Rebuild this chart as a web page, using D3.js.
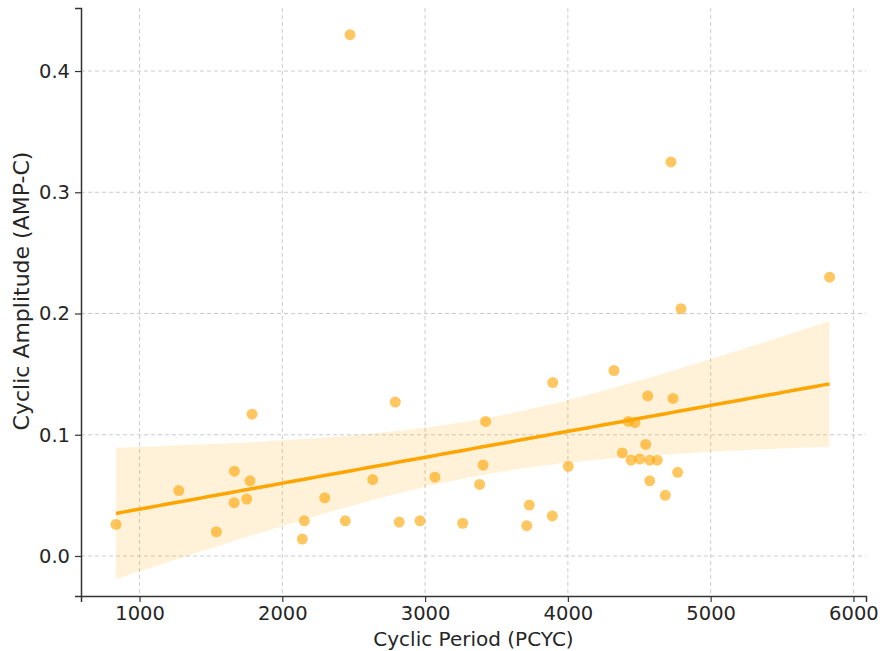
<!DOCTYPE html>
<html>
<head>
<meta charset="utf-8">
<script src="https://cdn.jsdelivr.net/npm/d3@7"></script>
<style>
  body { margin: 0; background: #fff; }
  svg text { font-family: "DejaVu Sans", sans-serif; fill: #262626; }
</style>
</head>
<body>
<svg id="chart" width="880" height="651"></svg>
<script>
// Cyclic period (PCYC) of each sample
const periods = [835, 1275, 1538, 1664, 1662, 1751, 1774, 1788, 2154, 2140,
  2297, 2441, 2474, 2633, 2791, 2819, 2964, 3069, 3263, 3382,
  3406, 3424, 3712, 3730, 3891, 3894, 4003, 4323, 4381, 4423,
  4442, 4470, 4503, 4545, 4559, 4573, 4573, 4626, 4682, 4722,
  4736, 4769, 4792, 5833];

// Cyclic amplitude (AMP-C) of each sample
const amplitudes = [0.026, 0.054, 0.020, 0.070, 0.044, 0.047, 0.062, 0.117, 0.029, 0.014,
  0.048, 0.029, 0.430, 0.063, 0.127, 0.028, 0.029, 0.065, 0.027, 0.059,
  0.075, 0.111, 0.025, 0.042, 0.033, 0.143, 0.074, 0.153, 0.085, 0.111,
  0.079, 0.110, 0.080, 0.092, 0.132, 0.079, 0.062, 0.079, 0.050, 0.325,
  0.130, 0.069, 0.204, 0.230];

const xTicks = [1000, 2000, 3000, 4000, 5000, 6000];
const yTicks = [0.0, 0.1, 0.2, 0.3, 0.4];

const points = periods.map((p, i) => ({ x: p, y: amplitudes[i] }));

const svg = d3.select('#chart');
const margin = { top: 8, right: 14, bottom: 55, left: 81 };
const width = 880 - margin.left - margin.right;
const height = 651 - margin.top - margin.bottom;

const x = d3.scaleLinear().domain([590, 6088]).range([0, width]);
const y = d3.scaleLinear().domain([-0.033, 0.452]).range([height, 0]);

const g = svg.append('g').attr('transform', `translate(${margin.left},${margin.top})`);

// Grid
g.append('g')
  .selectAll('line')
  .data(xTicks)
  .join('line')
  .attr('x1', d => x(d)).attr('x2', d => x(d))
  .attr('y1', 0).attr('y2', height)
  .attr('stroke', '#cccccc').attr('stroke-dasharray', '4,3');
g.append('g')
  .selectAll('line')
  .data(yTicks)
  .join('line')
  .attr('x1', 0).attr('x2', width)
  .attr('y1', d => y(d)).attr('y2', d => y(d))
  .attr('stroke', '#cccccc').attr('stroke-dasharray', '4,3');

// Least squares fit and 95% confidence band
const n = points.length;
const mx = d3.mean(periods);
const my = d3.mean(amplitudes);
const sxx = d3.sum(periods, v => (v - mx) ** 2);
const sxy = d3.sum(points, d => (d.x - mx) * (d.y - my));
const slope = sxy / sxx;
const intercept = my - slope * mx;
const s = Math.sqrt(d3.sum(points, d => (d.y - (intercept + slope * d.x)) ** 2) / (n - 2));
const tval = 2.018;

const grid = d3.range(0, 101).map(i => {
  const xv = d3.min(periods) + (d3.max(periods) - d3.min(periods)) * i / 100;
  const fit = intercept + slope * xv;
  const se = s * Math.sqrt(1 / n + (xv - mx) ** 2 / sxx);
  return { x: xv, fit, lo: fit - tval * se, hi: fit + tval * se };
});

// Scatter
g.append('g')
  .selectAll('circle')
  .data(points)
  .join('circle')
  .attr('cx', d => x(d.x))
  .attr('cy', d => y(d.y))
  .attr('r', 5.5)
  .attr('fill', '#ffa500')
  .attr('fill-opacity', 0.62);

g.append('path')
  .datum(grid)
  .attr('fill', '#ffa500')
  .attr('fill-opacity', 0.15)
  .attr('d', d3.area().x(d => x(d.x)).y0(d => y(d.lo)).y1(d => y(d.hi)));

g.append('path')
  .datum(grid)
  .attr('fill', 'none')
  .attr('stroke', '#ffa500')
  .attr('stroke-width', 3.5)
  .attr('d', d3.line().x(d => x(d.x)).y(d => y(d.fit)));

// Axes
const xAxis = g.append('g')
  .attr('transform', `translate(0,${height})`)
  .call(d3.axisBottom(x).tickValues(xTicks).tickFormat(d3.format('d')).tickSizeOuter(0).tickSize(6).tickPadding(4));
const yAxis = g.append('g')
  .call(d3.axisLeft(y).tickValues(yTicks).tickFormat(d3.format('.1f')).tickSizeOuter(0).tickSize(6).tickPadding(5));

[xAxis, yAxis].forEach(a => {
  a.select('.domain').attr('stroke', '#333').attr('stroke-width', 1.5);
  a.selectAll('.tick line').attr('stroke', '#333').attr('stroke-width', 1.2);
  a.selectAll('.tick text').attr('font-size', 19.5).attr('fill', '#262626');
});

svg.append('text')
  .attr('x', margin.left + width / 2)
  .attr('y', 646)
  .attr('text-anchor', 'middle')
  .attr('font-size', 20)
  .text('Cyclic Period (PCYC)');

svg.append('text')
  .attr('transform', `translate(29,291) rotate(-90)`)
  .attr('text-anchor', 'middle')
  .attr('font-size', 22)
  .text('Cyclic Amplitude (AMP-C)');
</script>
</body>
</html>
